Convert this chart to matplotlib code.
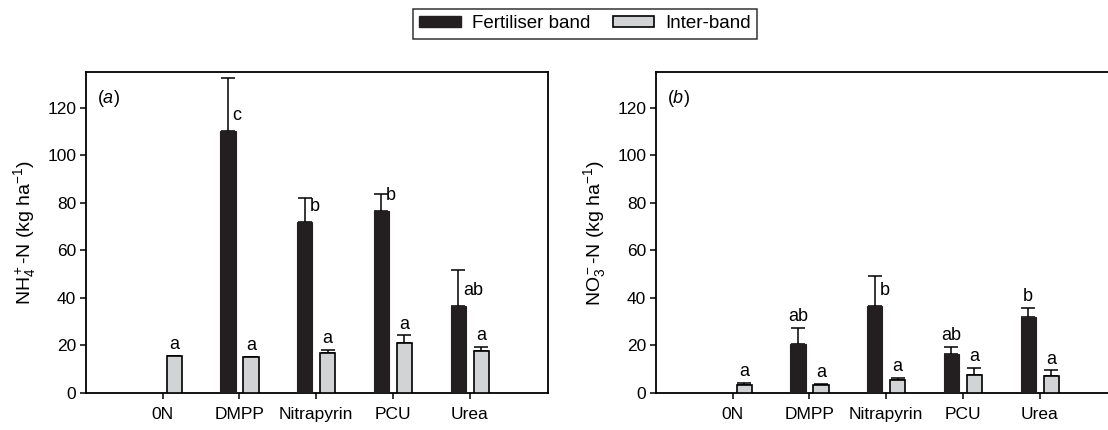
import numpy as np
import matplotlib
matplotlib.use("Agg")
import matplotlib.pyplot as plt
from matplotlib.patches import Patch

plt.rcParams['font.family'] = ['Liberation Sans', 'DejaVu Sans']
plt.rcParams['mathtext.fontset'] = 'custom'
plt.rcParams['mathtext.rm'] = 'Liberation Sans'
plt.rcParams['mathtext.it'] = 'Liberation Sans:italic'

treatments = ['0N', 'DMPP', 'Nitrapyrin', 'PCU', 'Urea']

# panel (a) NH4+-N
nh4_band = [np.nan, 110.2, 72.1, 76.7, 36.4]
nh4_band_err = [np.nan, 22.4, 9.8, 7.1, 15.4]
nh4_inter = [15.4, 15.0, 16.8, 21.0, 17.8]
nh4_inter_err = [0.3, 0.2, 1.4, 3.2, 1.5]
nh4_band_letters = ['', 'c', 'b', 'b', 'ab']
nh4_band_pos = ['', 'r', 'r', 'r', 'r']
nh4_inter_letters = ['a', 'a', 'a', 'a', 'a']

# panel (b) NO3--N
no3_band = [np.nan, 20.6, 36.7, 16.5, 31.9]
no3_band_err = [np.nan, 6.6, 12.3, 2.8, 3.8]
no3_inter = [3.2, 3.2, 5.6, 7.7, 7.0]
no3_inter_err = [1.0, 0.6, 0.6, 2.8, 2.5]
no3_band_letters = ['', 'ab', 'b', 'ab', 'b']
no3_band_pos = ['', 't', 'r', 't', 't']
no3_inter_letters = ['a', 'a', 'a', 'a', 'a']

band_col = '#231f20'
inter_col = '#d1d3d4'
fs = 12.5
width = 0.2
off = 0.15

fig = plt.figure(figsize=(11.08, 4.30), dpi=100)
ax_a = fig.add_axes([86 / 1108, 37 / 430, 462 / 1108, 321 / 430])
ax_b = fig.add_axes([656 / 1108, 37 / 430, 462 / 1108, 321 / 430])


def draw_panel(ax, band, band_err, inter, inter_err, band_let, band_pos, inter_let, ylabel, tag):
    x = np.arange(len(treatments))
    ekw = dict(ecolor='black', elinewidth=1.1, capsize=5, capthick=1.1)
    ax.bar(x - off, band, width, color=band_col, edgecolor=band_col, linewidth=0.8, zorder=3)
    ax.errorbar(x - off, band, yerr=[np.zeros(len(x)), band_err], fmt='none', zorder=2, **ekw)
    ax.bar(x + off, inter, width, color=inter_col, edgecolor='black', linewidth=1.2, zorder=3)
    ax.errorbar(x + off, inter, yerr=[np.zeros(len(x)), inter_err], fmt='none', zorder=2, **ekw)

    for i in range(len(x)):
        if band_let[i]:
            if band_pos[i] == 'r':
                ax.text(x[i] - off + 0.06, band[i] + 6.5, band_let[i], ha='left', va='center', fontsize=fs + 0.5)
            else:
                ax.text(x[i] - off, band[i] + band_err[i] + 1.2, band_let[i], ha='center', va='bottom', fontsize=fs + 0.5)
        ax.text(x[i] + off, inter[i] + inter_err[i] + 1.2, inter_let[i], ha='center', va='bottom', fontsize=fs + 0.5)

    ax.set_xlim(-1, 5.02)
    ax.set_ylim(0, 135)
    ax.set_yticks(np.arange(0, 121, 20))
    ax.set_xticks(x)
    ax.set_xticklabels(treatments)
    ax.tick_params(direction='out', length=4, width=1.1, labelsize=fs, pad=3)
    ax.tick_params(axis='x', pad=6)
    for s in ax.spines.values():
        s.set_linewidth(1.3)
    ax.set_ylabel(ylabel, fontsize=14, labelpad=7)
    ax.text(0.024, 0.95, tag, transform=ax.transAxes, ha='left', va='top', fontsize=fs + 0.5)


draw_panel(ax_a, nh4_band, nh4_band_err, nh4_inter, nh4_inter_err,
           nh4_band_letters, nh4_band_pos, nh4_inter_letters,
           r'NH$_4^+$-N (kg ha$^{-1}$)', r'($\it{a}$)')
draw_panel(ax_b, no3_band, no3_band_err, no3_inter, no3_inter_err,
           no3_band_letters, no3_band_pos, no3_inter_letters,
           r'NO$_3^-$-N (kg ha$^{-1}$)', r'($\it{b}$)')

handles = [Patch(facecolor=band_col, edgecolor=band_col, label='Fertiliser band'),
           Patch(facecolor=inter_col, edgecolor='black', linewidth=1.2, label='Inter-band')]
leg = fig.legend(handles=handles, loc='center', bbox_to_anchor=(0.528, 0.945), ncol=2,
                 fontsize=13.5, frameon=True, fancybox=False, edgecolor='black',
                 handlelength=2.2, handleheight=0.5, handletextpad=0.6,
                 columnspacing=1.2, borderpad=0.35)
leg.get_frame().set_linewidth(1.1)

fig.savefig('out.png', dpi=100)
